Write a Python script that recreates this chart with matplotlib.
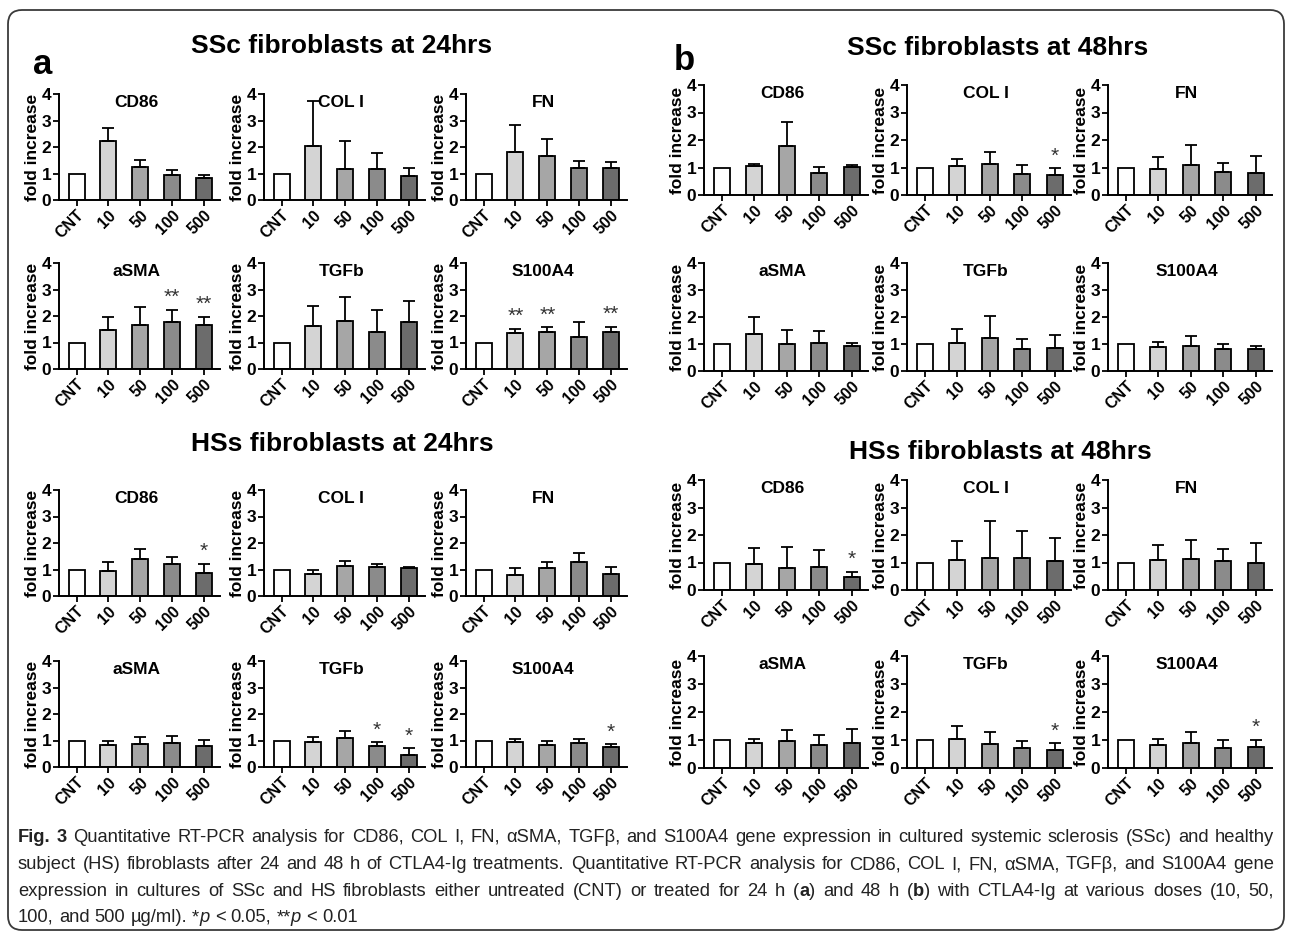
import matplotlib
matplotlib.use("Agg")
import matplotlib.pyplot as plt
from matplotlib import font_manager
from matplotlib.patches import FancyBboxPatch
import numpy as np

# ---- data ----
genes = ["CD86", "COL I", "FN", "aSMA", "TGFb", "S100A4"]
doses = ["CNT", "10", "50", "100", "500"]

ssc24_means = [[1, 2.23, 1.26, 0.95, 0.82],
               [1, 2.03, 1.18, 1.17, 0.90],
               [1, 1.82, 1.67, 1.22, 1.20],
               [1, 1.49, 1.67, 1.78, 1.66],
               [1, 1.63, 1.83, 1.38, 1.77],
               [1, 1.34, 1.38, 1.20, 1.39]]
ssc24_errs = [[0, 0.47, 0.24, 0.20, 0.11],
              [0, 1.69, 1.04, 0.60, 0.30],
              [0, 1.01, 0.63, 0.26, 0.24],
              [0, 0.48, 0.67, 0.46, 0.31],
              [0, 0.74, 0.87, 0.86, 0.79],
              [0, 0.18, 0.20, 0.57, 0.20]]
ssc24_stars = [["", "", "", "", ""],
               ["", "", "", "", ""],
               ["", "", "", "", ""],
               ["", "", "", "**", "**"],
               ["", "", "", "", ""],
               ["", "**", "**", "", "**"]]

ssc48_means = [[1, 1.05, 1.79, 0.81, 1.03],
               [1, 1.04, 1.14, 0.76, 0.71],
               [1, 0.95, 1.10, 0.85, 0.80],
               [1, 1.38, 1.00, 1.04, 0.93],
               [1, 1.04, 1.22, 0.80, 0.85],
               [1, 0.89, 0.94, 0.81, 0.83]]
ssc48_errs = [[0, 0.08, 0.88, 0.22, 0.06],
              [0, 0.26, 0.42, 0.32, 0.26],
              [0, 0.42, 0.72, 0.30, 0.62],
              [0, 0.62, 0.53, 0.45, 0.09],
              [0, 0.50, 0.81, 0.40, 0.48],
              [0, 0.20, 0.34, 0.20, 0.11]]
ssc48_stars = [["", "", "", "", ""],
               ["", "", "", "", "*"],
               ["", "", "", "", ""],
               ["", "", "", "", ""],
               ["", "", "", "", ""],
               ["", "", "", "", ""]]

hs24_means = [[1, 0.96, 1.40, 1.21, 0.88],
              [1, 0.82, 1.14, 1.09, 1.04],
              [1, 0.81, 1.07, 1.27, 0.82],
              [1, 0.82, 0.86, 0.92, 0.78],
              [1, 0.93, 1.09, 0.81, 0.45],
              [1, 0.95, 0.82, 0.92, 0.75]]
hs24_errs = [[0, 0.34, 0.37, 0.28, 0.33],
             [0, 0.17, 0.18, 0.12, 0.05],
             [0, 0.23, 0.21, 0.37, 0.28],
             [0, 0.16, 0.26, 0.26, 0.24],
             [0, 0.22, 0.28, 0.12, 0.26],
             [0, 0.10, 0.15, 0.15, 0.11]]
hs24_stars = [["", "", "", "", "*"],
              ["", "", "", "", ""],
              ["", "", "", "", ""],
              ["", "", "", "", ""],
              ["", "", "", "*", "*"],
              ["", "", "", "", "*"]]

hs48_means = [[1, 0.95, 0.79, 0.82, 0.48],
              [1, 1.08, 1.18, 1.18, 1.04],
              [1, 1.08, 1.11, 1.05, 1.00],
              [1, 0.90, 0.97, 0.82, 0.91],
              [1, 1.05, 0.86, 0.70, 0.65],
              [1, 0.82, 0.90, 0.70, 0.74]]
hs48_errs = [[0, 0.57, 0.76, 0.63, 0.19],
             [0, 0.70, 1.34, 0.98, 0.85],
             [0, 0.54, 0.71, 0.43, 0.71],
             [0, 0.13, 0.40, 0.37, 0.47],
             [0, 0.44, 0.42, 0.27, 0.23],
             [0, 0.20, 0.38, 0.31, 0.26]]
hs48_stars = [["", "", "", "", "*"],
              ["", "", "", "", ""],
              ["", "", "", "", ""],
              ["", "", "", "", ""],
              ["", "", "", "", "*"],
              ["", "", "", "", "*"]]

bar_colors = ["#ffffff", "#d4d4d4", "#a6a6a6", "#8b8b8b", "#6c6c6c"]

caption_lines = [
    [("Fig. 3", "bold", "normal"),
     (" Quantitative RT-PCR analysis for CD86, COL I, FN, \u03b1SMA, TGF\u03b2, and S100A4 gene expression in cultured systemic sclerosis (SSc) and healthy", "normal", "normal")],
    [("subject (HS) fibroblasts after 24 and 48 h of CTLA4-Ig treatments. Quantitative RT-PCR analysis for CD86, COL I, FN, \u03b1SMA, TGF\u03b2, and S100A4 gene", "normal", "normal")],
    [("expression in cultures of SSc and HS fibroblasts either untreated (CNT) or treated for 24 h (", "normal", "normal"),
     ("a", "bold", "normal"), (") and 48 h (", "normal", "normal"), ("b", "bold", "normal"),
     (") with CTLA4-Ig at various doses (10, 50,", "normal", "normal")],
    [("100, and 500 \u00b5g/ml). *", "normal", "normal"), ("p", "normal", "italic"),
     (" < 0.05, **", "normal", "normal"), ("p", "normal", "italic"), (" < 0.01", "normal", "normal")],
]

# ---- fonts ----
installed = {f.name for f in font_manager.fontManager.ttflist}
if "Liberation Sans Narrow" in installed:
    FONT, k = "Liberation Sans Narrow", 1.1
else:
    FONT, k = "Liberation Sans", 1.0
plt.rcParams["font.family"] = [FONT, "DejaVu Sans"]

W, H = 1290, 934
fig = plt.figure(figsize=(W / 100, H / 100), dpi=100)


def fx(x):
    return x / W


def fy(y):
    return 1 - y / H


def panel(x0, ytop, w, h, gene, means, errs, stars):
    ax = fig.add_axes([fx(x0), fy(ytop + h), w / W, h / H])
    x = np.arange(len(doses))
    ax.bar(x, means, width=0.5, color=bar_colors, edgecolor="black", linewidth=1.3, zorder=2)
    ax.errorbar(x[1:], means[1:], yerr=[np.zeros(4), errs[1:]], fmt="none",
                ecolor="black", elinewidth=1.3, capsize=4.5, capthick=1.3, zorder=3)
    for xi, m, e, s in zip(x, means, errs, stars):
        if s:
            ax.text(xi, m + e + 0.1, s, ha="center", va="bottom",
                    fontsize=15 * k, color="#333333")
    ax.set_xlim(-0.55, 4.5)
    ax.set_ylim(0, 4)
    ax.set_yticks([0, 1, 2, 3, 4])
    ax.set_xticks(x)
    ax.set_xticklabels(doses, rotation=45, ha="right", rotation_mode="anchor",
                       fontsize=11.5 * k, fontweight="bold")
    for lab in ax.get_yticklabels():
        lab.set_fontsize(12.5 * k)
        lab.set_fontweight("bold")
    ax.tick_params(axis="both", direction="out", length=4, width=1.3, pad=1.5)
    ax.spines["top"].set_visible(False)
    ax.spines["right"].set_visible(False)
    ax.spines["left"].set_linewidth(1.4)
    ax.spines["bottom"].set_linewidth(1.4)
    ax.set_facecolor("none")
    ax.set_ylabel("fold increase", fontsize=12.5 * k, fontweight="bold", labelpad=1)
    ax.text(0.48, 0.92, gene, transform=ax.transAxes, ha="center", va="center",
            fontsize=12.5 * k, fontweight="bold")
    return ax


def block(xs, w, rows, means, errs, stars):
    for i, gene in enumerate(genes):
        r, c = divmod(i, 3)
        ytop, h = rows[r]
        panel(xs[c], ytop, w, h, gene, means[i], errs[i], stars[i])


left_x = [59, 264, 466]
right_x = [704, 907, 1108]

block(left_x, 161, [(94, 106), (263, 106)], ssc24_means, ssc24_errs, ssc24_stars)
block(right_x, 164, [(85, 110), (263, 108)], ssc48_means, ssc48_errs, ssc48_stars)
block(left_x, 161, [(490, 106), (661, 106)], hs24_means, hs24_errs, hs24_stars)
block(right_x, 164, [(480, 110), (656, 112)], hs48_means, hs48_errs, hs48_stars)

# block titles and panel letters
tfs = 19 * k
fig.text(fx(342), fy(46), "SSc fibroblasts at 24hrs", ha="center", va="center", fontsize=tfs, fontweight="bold")
fig.text(fx(998), fy(48), "SSc fibroblasts at 48hrs", ha="center", va="center", fontsize=tfs, fontweight="bold")
fig.text(fx(342), fy(444), "HSs fibroblasts at 24hrs", ha="center", va="center", fontsize=tfs, fontweight="bold")
fig.text(fx(1000), fy(452), "HSs fibroblasts at 48hrs", ha="center", va="center", fontsize=tfs, fontweight="bold")
fig.text(fx(43), fy(64), "a", ha="center", va="center", fontsize=25 * k, fontweight="bold")
fig.text(fx(684), fy(60), "b", ha="center", va="center", fontsize=25 * k, fontweight="bold")

# rounded frame
frame = FancyBboxPatch((8, H - 930), 1276, 920, boxstyle="round,pad=0,rounding_size=14",
                       transform=None, fill=False, edgecolor="#3a3a3a", linewidth=1.3)
fig.add_artist(frame)

# caption, drawn word by word so lines 1-3 can be justified
renderer = fig.canvas.get_renderer()


def text_width(s, size, weight, style):
    t = fig.text(0, 0, s, fontsize=size, fontweight=weight, fontstyle=style)
    wdt = t.get_window_extent(renderer).width
    t.remove()
    return wdt


def split_words(pieces):
    words = [[]]
    for txt, wt, st in pieces:
        parts = txt.split(" ")
        for i, p in enumerate(parts):
            if i > 0:
                words.append([])
            if p:
                words[-1].append((p, wt, st))
    return [wd for wd in words if wd]


cap_x0, cap_x1 = 18, 1274
base = 10
natural = text_width(caption_lines[0][0][0], base, "bold", "normal") + \
    text_width(caption_lines[0][1][0], base, "normal", "normal")
cap_size = base * (cap_x1 - cap_x0) / natural * 0.985
space = text_width("x x", cap_size, "normal", "normal") - text_width("xx", cap_size, "normal", "normal")

baselines = [842, 869, 896, 922]
for li, pieces in enumerate(caption_lines):
    words = split_words(pieces)
    widths = [[text_width(p, cap_size, wt, st) for p, wt, st in wd] for wd in words]
    total = sum(sum(ws) for ws in widths)
    gap = space
    if li < 3:
        gap = (cap_x1 - cap_x0 - total) / (len(words) - 1)
    xc = cap_x0
    for wd, ws in zip(words, widths):
        for (p, wt, st), wp in zip(wd, ws):
            fig.text(fx(xc), fy(baselines[li]), p, fontsize=cap_size, fontweight=wt,
                     fontstyle=st, va="baseline", ha="left", color="#222222")
            xc += wp
        xc += gap

fig.savefig("out.png", dpi=100)
